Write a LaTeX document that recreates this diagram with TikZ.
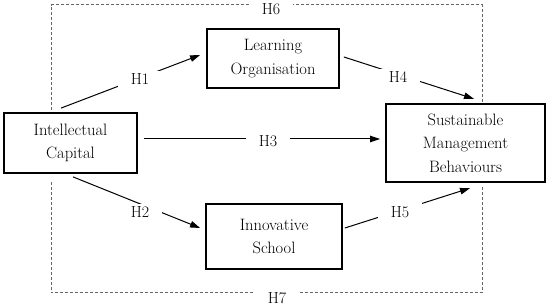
\documentclass[tikz,border=0pt]{standalone}
\usepackage{tikz}
\usetikzlibrary{arrows.meta}

\begin{document}
\begin{tikzpicture}[
    x=1pt, y=-1pt,
    box/.style={rectangle, draw, line width=1.8pt, align=center, inner sep=2pt,
                font=\fontsize{16.5}{23.5}\selectfont},
    hyp/.style={fill=white, inner xsep=12.5pt, inner ysep=3pt,
                font=\fontsize{16}{18}\selectfont},
    arrow/.style={-{Triangle[length=10pt,width=6.5pt]}, line width=1pt},
    frame/.style={draw=black!60, line width=1pt, dash pattern=on 3pt off 2pt}
  ]
  \useasboundingbox (0,0) rectangle (550,307);
  \node[box, minimum width=133.5pt, minimum height=60pt] (ic) at (70.5,143) {Intellectual\\Capital};
  \node[box, minimum width=132pt, minimum height=59pt] (lo) at (273,58.5) {Learning\\Organisation};
  \node[box, minimum width=159pt, minimum height=78.5pt] (smb) at (465.5,143) {Sustainable\\Management\\Behaviours};
  \node[box, minimum width=136pt, minimum height=65pt] (is) at (274,236.5) {Innovative\\School};

  \coordinate (toprail) at (271,5);
  \coordinate (botrail) at (275,293);
  \draw[frame] ([xshift=-19.5pt,yshift=2pt]ic.north) |- (toprail) -| ([xshift=16.5pt]smb.north);
  \draw[frame] ([xshift=-19.5pt,yshift=-8pt]ic.south) |- (botrail) -| ([xshift=16.5pt,yshift=-2pt]smb.south);

  \draw[arrow] ([xshift=-9.5pt,yshift=4pt]ic.north) -- ([xshift=-6pt,yshift=3.5pt]lo.west);
  \draw[arrow] ([xshift=4pt,yshift=1.5pt]lo.east) -- ([xshift=8.5pt,yshift=4pt]smb.north);
  \draw[arrow] ([xshift=6pt,yshift=4pt]ic.east) -- ([xshift=-5pt,yshift=4pt]smb.west);
  \draw[arrow] ([xshift=2.5pt,yshift=-3pt]ic.south) -- ([xshift=-5pt,yshift=8.5pt]is.west);
  \draw[arrow] ([xshift=2pt,yshift=8.5pt]is.east) -- ([xshift=4.5pt,yshift=-5pt]smb.south);

  \node[hyp] (h1) at (140,79) {H1};
  \node[hyp] (h2) at (140,212) {H2};
  \node[hyp] (h3) at (268,141) {H3};
  \node[hyp] (h4) at (398,77) {H4};
  \node[hyp] (h5) at (400,212) {H5};
  \node[hyp] (h6) at (271,9.5) {H6};
  \node[hyp] (h7) at (277,298) {H7};
\end{tikzpicture}
\end{document}
